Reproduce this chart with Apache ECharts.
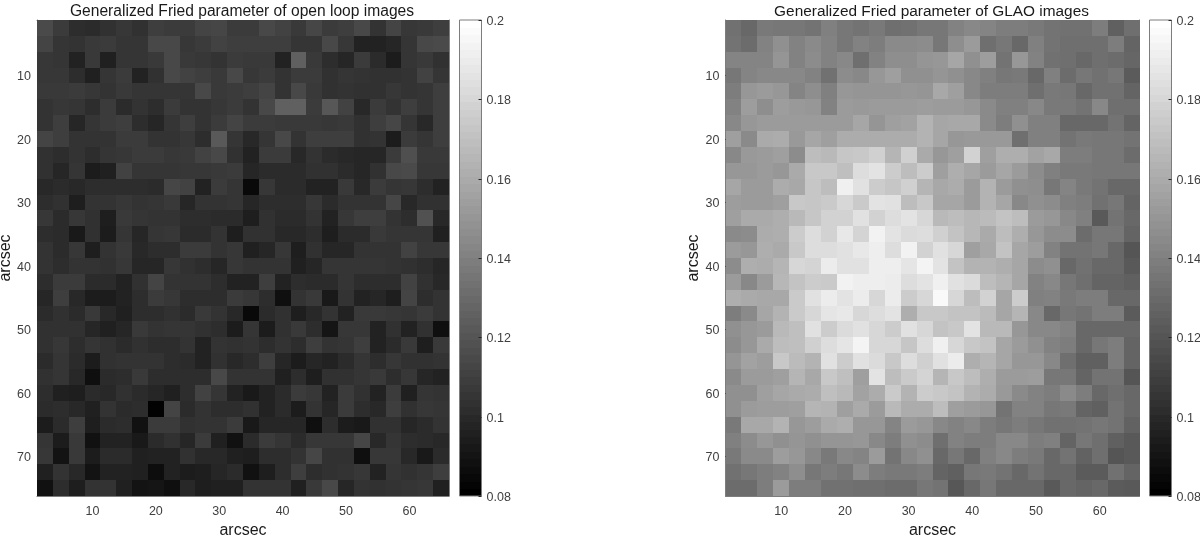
<!DOCTYPE html>
<html>
<head>
<meta charset="utf-8">
<title>Generalized Fried parameter</title>
<script src="https://cdn.jsdelivr.net/npm/echarts@6/dist/echarts.min.js"></script>
<style>html,body{margin:0;padding:0;background:#fff}#c{width:1200px;height:537px}</style>
</head>
<body>
<div id="c"></div>
<script>
const titleOpen = 'Generalized Fried parameter of open loop images';
const titleGlao = 'Generalized Fried parameter of GLAO images';
const axisName = 'arcsec';
const xCenters = [2.5,5,7.5,10,12.5,15,17.5,20,22.5,25,27.5,30,32.5,35,37.5,40,42.5,45,47.5,50,52.5,55,57.5,60,62.5,65];
const yCenters = [2.5,5,7.5,10,12.5,15,17.5,20,22.5,25,27.5,30,32.5,35,37.5,40,42.5,45,47.5,50,52.5,55,57.5,60,62.5,65,67.5,70,72.5,75];
const colorMin = 0.08, colorMax = 0.2, colorStep = 0.02, colorLevels = 64;
const colorTicks = [0.08, 0.1, 0.12, 0.14, 0.16, 0.18, 0.2];
// Fried parameter, in thousandths, one row per y centre
const openLoop = [
[115,108,101,100,103,106,103,109,108,108,112,113,108,108,114,111,107,113,108,109,114,104,112,106,107,109],
[112,105,104,107,108,105,105,114,114,106,108,111,109,109,109,109,105,105,114,106,96,96,98,105,114,115],
[106,105,96,107,95,105,105,107,114,107,106,104,108,107,107,96,125,107,101,98,108,100,93,105,107,103],
[106,106,101,95,105,108,96,103,114,111,109,107,114,106,108,104,108,108,103,105,104,103,103,104,111,105],
[107,107,108,106,104,107,105,105,105,105,114,107,108,109,112,104,114,107,103,104,103,103,106,104,105,109],
[104,106,105,101,108,100,104,101,108,104,104,106,108,104,114,125,125,108,121,111,99,108,104,109,105,109],
[104,109,98,105,108,109,101,98,105,109,104,108,112,108,108,107,107,107,106,107,103,109,113,105,99,109],
[112,109,104,104,104,108,108,104,104,106,101,122,105,99,105,114,104,109,109,109,103,104,93,108,105,109],
[103,101,104,101,105,106,108,108,106,107,111,114,103,96,108,108,99,104,100,99,98,98,108,117,107,107],
[103,98,105,93,95,111,105,105,105,106,106,107,108,98,100,100,100,103,103,100,98,103,114,115,106,106],
[99,100,99,101,101,101,101,100,113,111,96,108,105,84,106,100,100,96,96,107,99,108,105,106,101,96],
[101,103,94,104,104,106,104,105,107,98,104,104,105,98,101,101,101,106,100,104,104,104,113,99,103,103],
[106,100,106,103,94,107,105,104,104,101,101,100,100,94,103,100,100,104,96,106,109,109,104,101,118,99],
[101,100,92,103,93,105,98,105,106,100,100,104,94,103,103,99,99,101,94,100,100,107,105,105,105,95],
[104,100,106,94,104,107,99,101,101,108,108,104,106,95,98,106,94,103,98,98,104,104,104,111,106,106],
[104,101,104,104,103,106,98,98,106,103,101,98,106,104,104,104,95,98,105,105,105,105,104,103,101,98],
[101,108,108,100,100,96,103,112,104,104,104,101,96,96,109,96,101,100,100,105,101,101,101,111,103,99],
[98,109,99,93,93,96,101,108,106,101,101,101,108,106,101,87,104,107,92,104,96,98,94,112,101,104],
[100,103,100,107,99,95,101,101,103,100,107,104,99,84,100,103,94,99,104,96,107,107,106,105,108,104],
[103,103,103,98,95,98,107,104,105,105,103,101,93,105,93,103,107,101,90,106,106,96,103,96,103,87],
[103,106,101,105,103,100,103,101,101,104,96,104,103,104,101,104,101,109,104,105,109,96,100,107,94,107],
[100,105,100,93,103,104,104,104,101,100,96,103,99,101,109,98,93,98,96,100,105,101,106,103,103,104],
[103,105,99,87,100,101,107,101,101,101,101,114,104,104,104,95,101,94,103,103,105,107,101,106,98,96],
[101,95,94,100,99,103,100,98,95,101,111,105,96,92,96,100,108,106,96,108,103,96,108,95,105,104],
[100,101,99,95,104,100,101,81,112,100,104,101,101,103,96,100,93,104,98,108,101,99,109,103,106,105],
[93,100,109,94,100,101,88,108,108,103,104,104,108,92,98,98,98,87,101,93,92,103,103,98,100,104],
[105,93,107,88,96,96,92,100,103,98,108,95,88,100,108,105,100,106,106,106,113,99,105,101,100,99],
[106,89,107,93,100,100,95,96,96,103,99,99,95,94,101,101,104,113,103,103,87,106,106,99,92,100],
[95,104,99,89,96,96,95,86,96,93,94,98,100,88,94,101,109,101,103,104,106,96,105,103,105,109],
[88,101,94,104,104,95,89,90,87,99,94,95,95,104,104,104,95,107,114,98,104,103,104,105,106,95]
];
const glao = [
[133,129,137,136,136,134,140,136,134,137,132,133,136,136,141,144,142,139,139,137,134,133,133,139,125,132],
[134,131,141,148,141,145,141,136,141,139,145,145,146,136,147,153,132,136,129,140,134,132,132,132,139,127],
[142,142,142,150,141,146,141,144,132,141,147,147,150,151,158,148,154,134,151,141,133,132,129,132,131,128],
[136,142,144,144,144,141,133,146,144,151,155,148,148,150,148,144,140,136,137,129,140,131,136,133,136,123],
[139,151,153,151,142,147,140,151,150,150,150,151,150,159,155,144,139,139,139,132,137,136,129,133,133,127],
[141,154,147,154,152,151,141,153,152,153,153,153,154,153,153,151,145,140,140,144,137,137,134,144,132,132],
[144,151,153,153,153,153,153,153,158,150,155,156,164,158,159,159,145,139,148,140,140,129,129,129,134,127],
[155,145,160,161,152,158,155,161,161,161,161,161,164,158,151,152,152,152,132,140,140,134,137,136,136,134],
[144,152,153,155,146,169,167,173,174,178,165,178,160,151,155,179,155,162,162,156,159,139,139,136,136,131],
[151,151,153,151,160,174,174,170,184,187,176,169,176,155,162,158,153,158,153,146,140,137,137,136,136,136],
[158,153,153,161,159,173,169,193,186,176,173,178,165,159,161,153,164,153,148,147,136,142,137,134,129,129],
[154,153,153,155,174,173,175,181,175,187,186,169,174,158,158,153,164,158,144,148,146,140,139,133,136,127],
[155,160,160,162,167,173,179,179,186,179,184,187,181,167,169,166,168,172,169,153,151,144,140,122,134,129],
[145,146,161,162,176,184,179,189,180,194,187,183,184,178,172,166,160,169,162,151,146,146,131,136,136,127],
[153,151,162,160,174,184,184,186,189,192,184,194,179,186,181,155,159,172,158,154,141,134,134,136,129,120],
[146,162,161,165,181,180,191,186,186,192,192,188,195,187,172,164,164,162,158,146,148,129,133,129,129,122],
[153,144,153,166,172,176,175,194,192,192,191,184,187,193,186,183,169,165,158,141,144,136,132,127,127,125],
[162,160,159,159,175,186,191,187,191,181,191,176,181,197,181,169,179,158,176,140,141,137,139,139,129,129],
[139,145,158,164,175,181,188,189,181,184,187,162,174,174,172,172,168,158,165,144,129,136,134,139,139,123],
[148,151,153,167,170,186,176,183,186,181,176,186,181,172,174,187,167,167,151,144,144,141,129,129,129,129],
[146,151,160,169,170,178,184,188,195,181,181,173,184,193,181,174,172,158,153,148,141,139,129,136,139,127],
[150,156,154,174,168,164,186,176,186,183,174,184,178,186,191,162,165,158,151,151,144,132,125,125,139,127],
[145,153,153,155,165,159,174,170,155,187,169,175,180,165,174,169,162,153,153,154,136,136,127,134,134,120],
[148,148,155,158,160,161,170,167,156,161,175,164,176,174,172,164,161,152,145,141,139,145,139,129,132,129],
[148,153,154,154,155,165,164,155,160,153,167,161,161,169,155,153,151,134,141,141,136,137,127,125,134,129],
[137,159,159,164,151,154,160,162,151,151,142,153,151,144,141,144,139,136,139,136,133,133,134,136,134,126],
[140,146,151,148,150,148,150,150,151,144,139,148,146,132,141,139,139,144,144,139,140,127,136,132,125,122],
[137,145,145,154,151,144,137,144,142,153,134,144,148,129,136,129,140,144,139,137,129,134,126,132,120,122],
[133,136,139,141,147,136,139,136,146,139,137,137,139,127,125,136,137,134,129,134,129,129,123,123,133,127],
[131,131,139,153,139,139,133,133,132,132,131,131,136,134,121,129,136,129,129,129,122,129,127,129,123,122]
];

const FONT = '"Liberation Sans", Arial, sans-serif';
const LINE = '#7d7d7d', TICK = '#262626', LABEL = '#404040', DARK = '#1a1a1a';
const isTen = (i, v) => Number(v) % 10 === 0;
const toCells = rows => rows.flatMap((r, y) => r.map((v, x) => [x, y, v / 1000]));

const colorbarData = [];
for (let i = 0; i < colorLevels; i++) {
  const span = colorMax - colorMin;
  const g = Math.round(255 * i / (colorLevels - 1));
  colorbarData.push([colorMin + span * i / colorLevels, colorMin + span * (i + 1) / colorLevels, `rgb(${g},${g},${g})`]);
}

const panels = [
  {title: titleOpen, rows: openLoop, left: 37, width: 412, barLeft: 459.5, nameGap: 15},
  {title: titleGlao, rows: glao, left: 725.5, width: 414, barLeft: 1149.5, nameGap: 18}
];
const plotTop = 20, plotHeight = 476, barW = 22;

const grid = [], xAxis = [], yAxis = [], series = [], title = [];
const catAxis = (data, gridIndex, position, labelled, margin, labelExtra, extra) => Object.assign({
  type: 'category', data, gridIndex, position,
  axisLine: {show: true, onZero: false, lineStyle: {color: LINE, width: 1}},
  axisTick: {show: true, inside: true, length: 3, alignWithLabel: true, interval: isTen, lineStyle: {color: TICK, width: 1}},
  axisLabel: Object.assign({show: labelled, interval: isTen, color: LABEL, fontFamily: FONT, fontSize: 12.5, margin}, labelExtra),
  splitLine: {show: false}, splitArea: {show: false}
}, extra);
const nameStyle = {color: DARK, fontFamily: FONT, fontSize: 16};
const lowered = {verticalAlign: 'top', lineHeight: 3};

panels.forEach((p, k) => {
  const g = grid.length;
  grid.push({left: p.left, top: plotTop, width: p.width, height: plotHeight, containLabel: false, outerBoundsMode: 'none'});
  grid.push({left: p.barLeft, top: plotTop, width: barW, height: plotHeight, containLabel: false, outerBoundsMode: 'none'});
  title.push({
    text: p.title, left: p.left + p.width / 2 - 6, top: -1, textAlign: 'center',
    textStyle: {color: DARK, fontFamily: FONT, fontSize: k ? 15.4 : 15.6, fontWeight: 'normal'}
  });
  const xBottom = xAxis.length;
  xAxis.push(catAxis(xCenters, g, 'bottom', true, 9, {}, {name: axisName, nameLocation: 'middle', nameGap: 26, nameTextStyle: nameStyle}));
  xAxis.push(catAxis(xCenters, g, 'top', false, 8, {}, {}));
  xAxis.push({type: 'value', gridIndex: g + 1, min: 0, max: 1, show: false});
  const yLeft = yAxis.length;
  yAxis.push(catAxis(yCenters, g, 'left', true, 6, lowered, {inverse: true, name: axisName, nameLocation: 'middle', nameGap: p.nameGap, nameTextStyle: nameStyle}));
  yAxis.push(catAxis(yCenters, g, 'right', false, 8, {}, {inverse: true}));
  yAxis.push({
    type: 'value', gridIndex: g + 1, position: 'right', min: colorMin, max: colorMax, interval: colorStep,
    axisLine: {show: false},
    axisTick: {show: false},
    axisLabel: Object.assign({show: true, color: LABEL, fontFamily: FONT, fontSize: 12.5, margin: 5, formatter: v => String(Number(v.toFixed(2)))}, lowered),
    splitLine: {show: false}
  });
  series.push({
    type: 'custom', xAxisIndex: xBottom, yAxisIndex: yLeft, data: toCells(p.rows),
    animation: false, silent: true, z: 1, encode: {x: 0, y: 1},
    renderItem: (params, api) => {
      const c = api.coord([api.value(0), api.value(1)]);
      const s = api.size([1, 1]);
      const x0 = Math.round(c[0] - s[0] / 2), x1 = Math.round(c[0] + s[0] / 2);
      const y0 = Math.round(c[1] - s[1] / 2), y1 = Math.round(c[1] + s[1] / 2);
      return {type: 'rect', shape: {x: x0, y: y0, width: x1 - x0, height: y1 - y0}, style: {fill: api.visual('color')}};
    }
  });
  series.push({
    type: 'custom', xAxisIndex: xBottom + 2, yAxisIndex: yLeft + 2, data: colorbarData, animation: false, silent: true, z: 1,
    encode: {y: [0, 1]},
    renderItem: (params, api) => {
      const a = api.coord([0, api.value(0)]);
      const b = api.coord([1, api.value(1)]);
      return {type: 'rect', shape: {x: a[0], y: Math.floor(b[1]), width: b[0] - a[0], height: Math.ceil(a[1]) - Math.floor(b[1])},
        style: {fill: colorbarData[params.dataIndex][2]}};
    }
  });
  series.push({
    type: 'custom', xAxisIndex: xBottom + 2, yAxisIndex: yLeft + 2, data: [[colorMin, colorMax]], animation: false, silent: true, z: 3,
    encode: {y: [0, 1]},
    renderItem: (params, api) => {
      const a = api.coord([0, api.value(0)]);
      const b = api.coord([1, api.value(1)]);
      return {type: 'rect', shape: {x: a[0], y: b[1], width: b[0] - a[0], height: a[1] - b[1]},
        style: {fill: 'none', stroke: LINE, lineWidth: 1}};
    }
  });
  series.push({
    type: 'custom', xAxisIndex: xBottom + 2, yAxisIndex: yLeft + 2, data: colorTicks.map(v => [v]), animation: false, silent: true, z: 4,
    encode: {y: 0},
    renderItem: (params, api) => {
      const a = api.coord([1, api.value(0)]);
      return {type: 'line', shape: {x1: a[0] - 3, y1: Math.round(a[1]) + 0.5, x2: a[0], y2: Math.round(a[1]) + 0.5},
        style: {stroke: TICK, lineWidth: 1}};
    }
  });
});

const chart = echarts.init(document.getElementById('c'), null, {renderer: 'canvas'});
chart.setOption({
  animation: false, backgroundColor: '#ffffff', tooltip: {show: false},
  title, grid, xAxis, yAxis, series,
  visualMap: [{
    show: false, type: 'continuous', min: colorMin, max: colorMax, dimension: 2,
    seriesIndex: [0, 4], inRange: {color: ['#000000', '#ffffff']}
  }]
});
</script>
</body>
</html>
